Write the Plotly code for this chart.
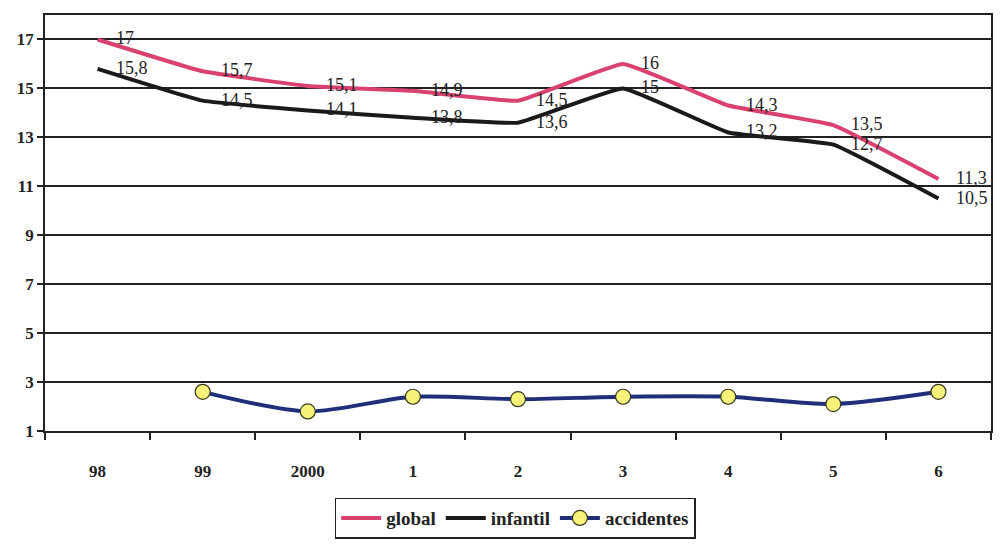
import plotly.graph_objects as go

# Years on the x axis
years = ["98", "99", "2000", "1", "2", "3", "4", "5", "6"]

# Rates per series
global_vals = [17, 15.7, 15.1, 14.9, 14.5, 16, 14.3, 13.5, 11.3]
infantil_vals = [15.8, 14.5, 14.1, 13.8, 13.6, 15, 13.2, 12.7, 10.5]
accidentes_years = ["99", "2000", "1", "2", "3", "4", "5", "6"]
accidentes_vals = [2.6, 1.8, 2.4, 2.3, 2.4, 2.4, 2.1, 2.6]

y_ticks = [1, 3, 5, 7, 9, 11, 13, 15, 17]

FONT = "Liberation Serif, Times New Roman, serif"
PINK = "#d9416e"
BLACK = "#1a1a1a"
NAVY = "#1f2f7a"

fig = go.Figure()

fig.add_trace(go.Scatter(
    x=years, y=global_vals, name="global", mode="lines",
    line=dict(color=PINK, width=4, shape="spline", smoothing=0.3),
))
fig.add_trace(go.Scatter(
    x=years, y=infantil_vals, name="infantil", mode="lines",
    line=dict(color=BLACK, width=4, shape="spline", smoothing=0.3),
))
fig.add_trace(go.Scatter(
    x=accidentes_years, y=accidentes_vals, name="accidentes", mode="lines+markers",
    line=dict(color=NAVY, width=4, shape="spline", smoothing=0.8),
    marker=dict(size=15, color="#f7f27a", line=dict(color="#3a3a20", width=1.2)),
))


def fmt(v):
    return f"{v:g}".replace(".", ",")


# Value labels to the right of each point (x given as category index)
for ys in (global_vals, infantil_vals):
    for i, yv in enumerate(ys):
        fig.add_annotation(
            x=i, y=yv, text=fmt(yv), showarrow=False,
            xanchor="left", yanchor="middle", xshift=16, yshift=1,
            font=dict(family=FONT, size=18, color="#222222"),
        )

fig.update_layout(
    width=1000, height=546,
    margin=dict(l=45, r=7, t=15, b=106),
    paper_bgcolor="white", plot_bgcolor="white",
    separators=",.",
    font=dict(family=FONT, size=15, color="#222222"),
    showlegend=True,
    legend=dict(
        orientation="h", x=0.497, xanchor="center", y=-0.16, yanchor="top",
        bordercolor="#222222", borderwidth=1.5,
        font=dict(family=FONT, size=19, color="#222222", weight="bold"),
        itemwidth=40, tracegroupgap=0,
    ),
)

fig.update_xaxes(
    type="category", categoryorder="array", categoryarray=years,
    range=[-0.5, 8.5],
    showline=True, linecolor="#222222", linewidth=1.5, mirror=True,
    showgrid=False,
    ticks="outside", tickson="boundaries", ticklen=7, tickcolor="#222222", tickwidth=1.5,
    tickfont=dict(family=FONT, size=17, color="#222222", weight="bold"),
    ticklabelstandoff=24,
)
fig.update_yaxes(
    range=[1, 18], tickvals=y_ticks,
    showline=True, linecolor="#222222", linewidth=1.5, mirror=True,
    showgrid=True, gridcolor="#222222", gridwidth=1.5,
    ticks="outside", ticklen=6, tickcolor="#222222", tickwidth=1.5,
    tickfont=dict(family=FONT, size=17, color="#222222", weight="bold"),
    zeroline=False,
)

fig.write_html("out.html")
